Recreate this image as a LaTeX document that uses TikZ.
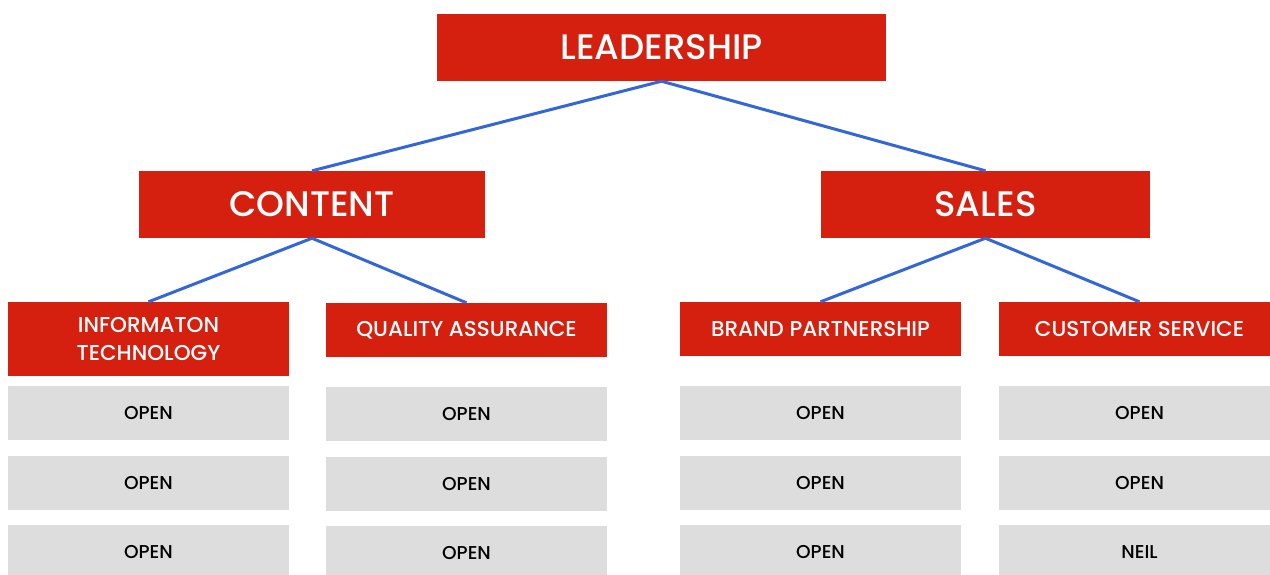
\documentclass[tikz,border=0pt]{standalone}
\usepackage{fontspec}
\setmainfont{Poppins Medium}
\definecolor{boxred}{HTML}{D6200F}
\definecolor{boxgray}{HTML}{DDDDDD}
\definecolor{linkblue}{HTML}{3366D6}
\begin{document}
\begin{tikzpicture}[x=1pt,y=-1pt,
  head/.style={fill=boxred,text=white,inner sep=0pt,align=center,font=\fontsize{35.5}{40}\selectfont},
  dept/.style={fill=boxred,text=white,inner sep=0pt,align=center,minimum width=281pt,font=\fontsize{21.5}{28}\selectfont},
  slot/.style={fill=boxgray,text=black,inner sep=0pt,minimum width=281pt,minimum height=54pt,font=\fontsize{18.6}{20}\selectfont},
  link/.style={draw=linkblue,line width=3pt}]
\clip (0,0) rectangle (1270,574);
\fill[white] (0,0) rectangle (1270,574);

% top level
\node[head,minimum width=449pt,minimum height=67pt] (lead) at (661.5,47.5) {LEADERSHIP};
\node[head,minimum width=346pt,minimum height=67pt] (content) at (312,204.5) {CONTENT};
\node[head,minimum width=329pt,minimum height=67pt] (sales) at (985.5,204.5) {SALES};

% departments
\node[dept,minimum height=74pt] (it) at (148.5,339) {INFORMATON\\TECHNOLOGY};
\node[dept,minimum height=54pt] (qa) at (466.5,330) {QUALITY ASSURANCE};
\node[dept,minimum height=54pt] (bp) at (820.5,329) {BRAND PARTNERSHIP};
\node[dept,minimum height=54pt] (cs) at (1139.5,329) {CUSTOMER SERVICE};

% positions
\node[slot] (it1) at (148.5,413) {OPEN};
\node[slot] (it2) at (148.5,483) {OPEN};
\node[slot] (it3) at (148.5,552) {OPEN};
\node[slot] (qa1) at (466.5,414) {OPEN};
\node[slot] (qa2) at (466.5,484) {OPEN};
\node[slot] (qa3) at (466.5,553) {OPEN};
\node[slot] (bp1) at (820.5,413) {OPEN};
\node[slot] (bp2) at (820.5,483) {OPEN};
\node[slot] (bp3) at (820.5,552) {OPEN};
\node[slot] (cs1) at (1139.5,413) {OPEN};
\node[slot] (cs2) at (1139.5,483) {OPEN};
\node[slot] (cs3) at (1139.5,552) {NEIL};

% connectors
\draw[link] (lead.south) -- (content.north);
\draw[link] (lead.south) -- (sales.north);
\draw[link] (content.south) -- (it.north);
\draw[link] (content.south) -- (qa.north);
\draw[link] (sales.south) -- (bp.north);
\draw[link] (sales.south) -- (cs.north);
\end{tikzpicture}
\end{document}
